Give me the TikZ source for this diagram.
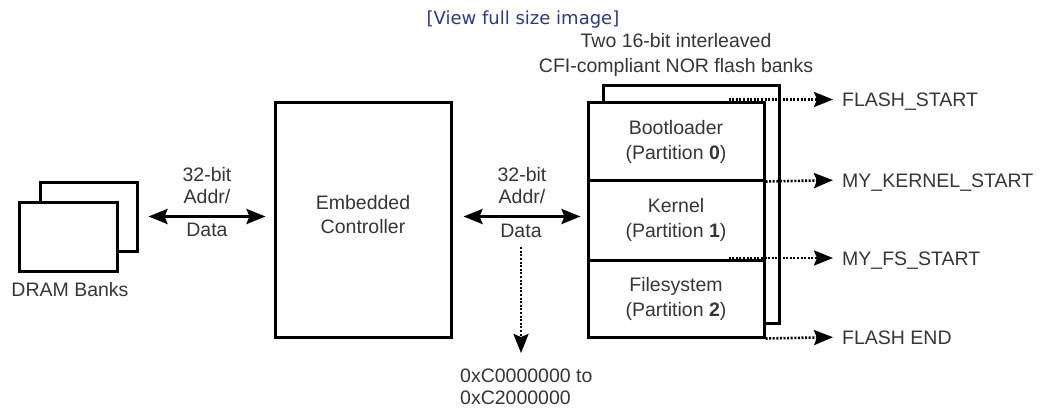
\documentclass[tikz,border=0pt]{standalone}
\usepackage{fontspec}
\setmainfont{Liberation Sans}
\newfontfamily\viewfont{DejaVu Sans}
\usetikzlibrary{arrows.meta}
\definecolor{txt}{HTML}{363636}
\definecolor{linkblue}{HTML}{2A3A90}
\newcommand\lblfont{\fontsize{19.5}{25}\selectfont}
\newcommand\lblfonttight{\fontsize{19.5}{22}\selectfont}
\begin{document}
\begin{tikzpicture}[x=1pt,y=-1pt,
  box/.style={draw=black, line width=3pt, fill=white, inner sep=0pt, text=txt, align=center, font=\lblfont},
  txtlbl/.style={text=txt, align=center, font=\lblfont, inner sep=0pt},
  rlabel/.style={anchor=west, text=txt, font=\lblfont, inner sep=0pt, text height=14pt, text depth=0pt},
  tip/.tip={Stealth[length=19pt,width=15pt,inset=3pt]},
  dblarr/.style={line width=3pt, tip-tip},
  dotarr/.style={line width=2.6pt, dash pattern=on 2pt off 1.6pt, -tip}
]
\useasboundingbox (0,0) rectangle (1041,409);
\fill[white] (0,0) rectangle (1041,409);

% header link
\node[text=linkblue, font=\viewfont\fontsize{18}{22}\selectfont, inner sep=0pt] (view) at (523,20) {[View full size image]};

% flash caption
\node[txtlbl] (flashcap) at (676,54.5) {Two 16-bit interleaved\\CFI-compliant NOR flash banks};

% DRAM banks
\node[box, minimum width=97pt, minimum height=69pt] (dramback) at (88.5,216.5) {};
\node[box, minimum width=98pt, minimum height=69pt] (dramfront) at (68,236.5) {};
\node[txtlbl] (dramlbl) at (70,290) {DRAM Banks};

% controller
\node[box, minimum width=176pt, minimum height=234pt] (ctrl) at (363,220) {};
\node[txtlbl, font=\fontsize{19.5}{24}\selectfont] (ctrltext) at (363,215) {Embedded\\Controller};

% flash banks
\node[box, minimum width=176pt, minimum height=237pt] (flashback) at (691,204.5) {};
\node[box, minimum width=176pt, minimum height=77pt] (boot) at (676,141.5) {Bootloader\\(Partition \textbf{0})};
\node[box, minimum width=176pt, minimum height=80pt] (kern) at (676,220) {Kernel\\(Partition \textbf{1})};
\node[box, minimum width=176pt, minimum height=77pt] (fs) at (676,298.5) {Filesystem\\(Partition \textbf{2})};

% bus labels
\node[txtlbl, font=\lblfonttight] (bus1) at (207,186) {32-bit\\Addr/};
\node[txtlbl] (data1) at (207,230) {Data};
\node[txtlbl, font=\lblfonttight] (bus2) at (522,186) {32-bit\\Addr/};
\node[txtlbl, text height=14pt, text depth=0pt] (data2) at (521,230) {Data};

% bus arrows
\draw[dblarr, shorten <=10pt, shorten >=8pt] (dramback.east) -- (dramback.east -| ctrl.west);
\draw[dblarr, shorten <=11pt, shorten >=6pt] (ctrl.east |- dramback.east) -- (dramback.east -| kern.west);

% address range
\node[text=txt, font=\lblfonttight, align=left, inner sep=0pt, anchor=north west] (range) at (460,369) {0xC0000000 to\\0xC2000000};
\draw[dotarr, shorten <=10pt, shorten >=16pt] (data2.south) -- (range.north -| data2.south);

% right labels
\node[rlabel] (lstart) at (842,99.5) {FLASH\_START};
\node[rlabel] (lkern) at (842,180) {MY\_KERNEL\_START};
\node[rlabel] (lfs) at (842,258) {MY\_FS\_START};
\node[rlabel] (lend) at (842,337) {FLASH END};

\draw[dotarr, shorten >=9pt] ([xshift=-37pt]boot.north east |- lstart.west) -- (lstart.west);
\draw[dotarr, shorten >=9pt] (boot.south east) -- (lkern.west);
\draw[dotarr, shorten >=9pt] ([xshift=-37pt]kern.south east |- lfs.west) -- (lfs.west);
\draw[dotarr, shorten >=9pt] (fs.south east) -- (lend.west);
\end{tikzpicture}
\end{document}
